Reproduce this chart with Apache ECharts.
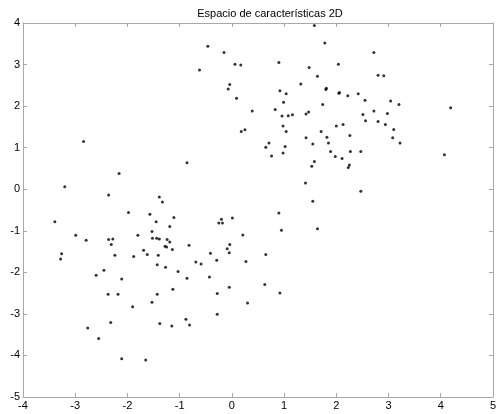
<!DOCTYPE html>
<html>
<head>
<meta charset="utf-8">
<script src="https://cdn.jsdelivr.net/npm/echarts@6/dist/echarts.min.js"></script>
<style>
  html, body { margin: 0; padding: 0; background: #fff; }
  #chart { width: 499px; height: 414px; }
</style>
</head>
<body>
<div id="chart"></div>
<script>
// Feature coordinates of every sample (two groups of points)
const featureX = [
  -2.84, -0.86, -2.16, -3.20, -2.36, -1.39, -1.33, -1.98, -1.57, -1.11,
  -3.39, -1.45, -1.19, -1.53, -2.99, -1.80, -2.79, -2.36, -2.28, -1.52,
  -1.44, -1.39, -1.24, -1.19, -2.31, -1.28, -1.25, -1.14, -1.69, -3.26,
  -1.62, -2.24, -1.88, -1.41, -3.28, -1.43, -2.45, -1.27, -2.60, -2.11,
  -1.03, -0.86, -1.13, -1.43, -2.37, -2.18, -1.53, -1.90, -2.32, -2.76,
  -2.55, -2.11, -1.65, -1.38, -1.15, -0.88, -0.81, -0.28, -0.82, -0.69,
  -0.59, -0.43, -0.41, -0.29, -0.20, -0.25, -0.18, 0.01, -0.04, -0.09,
  -0.05, 0.21, 0.27, 0.65, -0.28, -0.05, 0.63, 0.30, 0.90, 0.95,
  0.92,
  1.58, -0.46, -0.15, 1.78, 2.72, 0.06, 0.17, 0.90, -0.62, 2.04,
  1.48, 1.64, 2.80, 2.91, 1.32, -0.04, -0.07, 0.09, 0.92, 1.04,
  0.99, 0.39, 0.83, 0.96, 1.08, 1.16, 1.81, 1.80, 2.06, 2.05,
  2.22, 2.42, 2.55, 3.04, 3.20, 1.74, 2.72, 2.98, 2.51, 1.47,
  1.42, 2.56, 2.80, 2.94, 2.13, 2.00, 3.10, 0.98, 1.04, 0.18,
  0.25, 1.71, 2.26, 1.42, 1.82, 3.08, 0.71, 0.65, 1.02, 0.98,
  0.76, 3.22, 1.55, 1.85, 1.89, 2.27, 2.47, 1.98, 2.11, 1.58,
  1.53, 2.25, 2.23, 1.41, 2.47, 1.55, 1.64, 4.19, 4.07
];
const featureY = [
  1.15, 0.64, 0.38, 0.06, -0.14, -0.19, -0.31, -0.56, -0.60, -0.68,
  -0.78, -0.78, -0.90, -1.02, -1.11, -1.11, -1.23, -1.21, -1.20, -1.18,
  -1.18, -1.20, -1.21, -1.27, -1.33, -1.37, -1.39, -1.45, -1.47, -1.55,
  -1.57, -1.59, -1.62, -1.59, -1.68, -1.82, -1.95, -1.88, -2.07, -2.16,
  -1.98, -2.14, -2.41, -2.53, -2.53, -2.53, -2.72, -2.83, -3.21, -3.34,
  -3.59, -4.08, -4.11, -3.23, -3.29, -3.13, -3.27, -3.01, -1.35, -1.75,
  -1.80, -2.11, -1.54, -1.71, -0.72, -0.81, -0.81, -0.69, -1.33, -1.43,
  -1.53, -1.10, -1.74, -1.57, -2.51, -2.36, -2.29, -2.74, -0.57, -0.99,
  -2.50,
  3.94, 3.44, 3.29, 3.52, 3.29, 3.01, 2.99, 3.05, 2.87, 3.01,
  2.93, 2.72, 2.74, 2.73, 2.53, 2.52, 2.41, 2.19, 2.37, 2.30,
  2.09, 1.88, 1.92, 1.76, 1.77, 1.79, 2.43, 2.40, 2.33, 2.31,
  2.25, 2.30, 2.14, 2.12, 2.04, 2.04, 1.88, 1.82, 1.80, 1.86,
  1.81, 1.65, 1.63, 1.56, 1.56, 1.52, 1.44, 1.52, 1.39, 1.39,
  1.43, 1.39, 1.29, 1.24, 1.25, 1.24, 1.11, 1.01, 1.03, 0.87,
  0.80, 1.11, 1.09, 1.11, 0.91, 0.91, 0.91, 0.79, 0.74, 0.67,
  0.55, 0.58, 0.52, 0.15, -0.05, -0.29, -0.95, 1.96, 0.83
];

// Axis extents and tick values
const xTicks = [-4, -3, -2, -1, 0, 1, 2, 3, 4, 5];
const yTicks = [-5, -4, -3, -2, -1, 0, 1, 2, 3, 4];
const chartTitle = 'Espacio de características 2D';

const points = featureX.map((x, i) => [x, featureY[i]]);

const axisGray = '#a8a8a8';
const fontFamily = 'Arial, "Liberation Sans", sans-serif';

function boxAxis(ticks, showLabels, extra) {
  return Object.assign({
    type: 'value',
    min: ticks[0],
    max: ticks[ticks.length - 1],
    interval: 1,
    axisLine: { show: true, onZero: false, lineStyle: { color: axisGray, width: 1 } },
    axisTick: { show: true, inside: true, length: 4, lineStyle: { color: axisGray } },
    axisLabel: {
      show: showLabels,
      color: '#000',
      fontSize: 11,
      fontFamily: fontFamily,
      margin: 3,
      showMinLabel: true,
      showMaxLabel: true
    },
    splitLine: { show: false }
  }, extra || {});
}

const chart = echarts.init(document.getElementById('chart'), null, { renderer: 'canvas' });
chart.setOption({
  animation: false,
  backgroundColor: '#ffffff',
  title: {
    text: chartTitle,
    left: 265,
    top: 3,
    textAlign: 'center',
    textStyle: { fontSize: 11, fontWeight: 'normal', color: '#000', fontFamily: fontFamily }
  },
  grid: { left: 23, right: 1, top: 23, bottom: 17, containLabel: false },
  xAxis: [
    boxAxis(xTicks, true, { position: 'bottom' }),
    boxAxis(xTicks, false, { position: 'top' })
  ],
  yAxis: [
    boxAxis(yTicks, true, { position: 'left' }),
    boxAxis(yTicks, false, { position: 'right' })
  ],
  series: [{
    type: 'scatter',
    xAxisIndex: 0,
    yAxisIndex: 0,
    data: points,
    symbol: 'circle',
    symbolSize: 3,
    itemStyle: { color: '#000' }
  }]
});
</script>
</body>
</html>
